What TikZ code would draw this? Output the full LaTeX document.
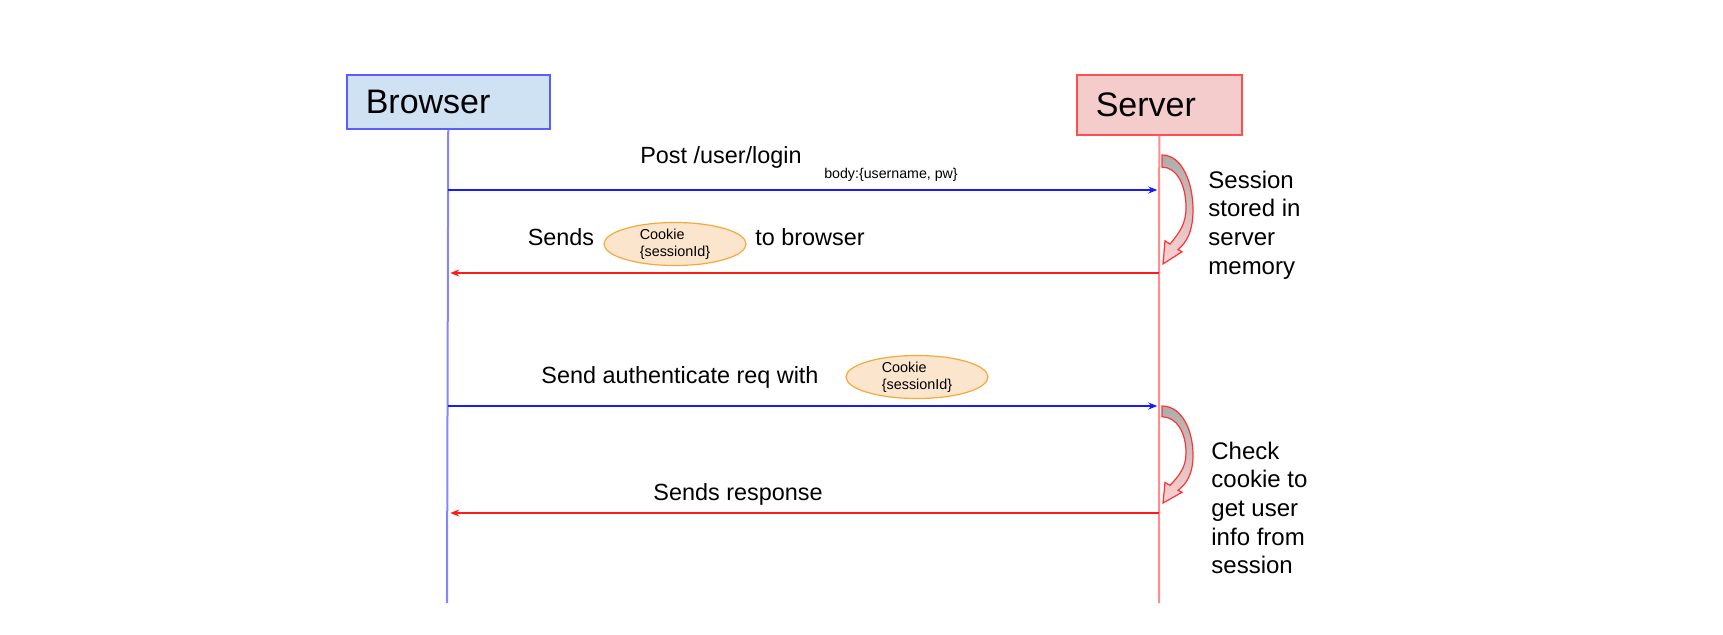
\documentclass[tikz,border=0pt]{standalone}
\usepackage{fontspec}
\setmainfont{Liberation Sans}
\usetikzlibrary{arrows.meta,shapes.geometric}
\definecolor{brfill}{HTML}{CFE2F3}
\definecolor{brline}{HTML}{5C5CFF}
\definecolor{svfill}{HTML}{F4CCCC}
\definecolor{svline}{HTML}{FF5050}
\definecolor{ckfill}{HTML}{FCE5CD}
\definecolor{ckline}{HTML}{F6A93B}
\definecolor{reqcol}{HTML}{1A1AFF}
\definecolor{respcol}{HTML}{FF1A1A}
\begin{document}
\begin{tikzpicture}[x=0.5pt,y=-0.5pt,
lane/.style={draw, line width=0.75pt, align=left, inner ysep=0pt, inner xsep=9.5pt, anchor=west, font=\fontsize{17}{20}\selectfont},
life/.style={line width=1pt},
req/.style={draw=reqcol, line width=0.6pt, -{Stealth[length=4.5pt,width=3.5pt]}, shorten >=1pt},
resp/.style={draw=respcol, line width=0.6pt, -{Stealth[length=4.5pt,width=3.5pt]}, shorten >=1pt},
lbl/.style={inner sep=0pt, font=\fontsize{11.7}{14}\selectfont},
tiny/.style={inner sep=0pt, font=\fontsize{7.1}{8.5}\selectfont},
cookie/.style={ellipse, draw=ckline, fill=ckfill, line width=0.6pt, minimum width=71pt, minimum height=20pt, inner sep=0pt, align=left, font=\fontsize{7.2}{8.5}\selectfont},
note/.style={inner sep=0pt, anchor=west, align=left, font=\fontsize{12}{14.3}\selectfont},
turn/.style={draw=red!80, line width=0.6pt, top color=gray!65, bottom color=red!18}]
\useasboundingbox (0,0) rectangle (1723,634);
%lanes
\node[lane, draw=brline, fill=brfill, text width=82.5pt, minimum height=27pt] (browser) at (346,102) {Browser};
\node[lane, draw=svline, fill=svfill, text width=63.5pt, minimum height=30pt] (server) at (1076,105) {Server};
\coordinate (bend) at (447,603);
\coordinate (send) at (1159,603);
\draw[life, draw=brline!75] (browser.south) -- (bend);
\draw[life, draw=svline!65] (server.south) -- (send);
%messages
\foreach \n/\y in {1/190,2/273,3/406,4/513}{\coordinate (m\n) at (0,\y);}
\draw[req] (browser |- m1) -- (server |- m1);
\draw[resp] (server |- m2) -- (browser |- m2);
\draw[req] (browser |- m3) -- (server |- m3);
\draw[resp] (server |- m4) -- (browser |- m4);
%labels
\node[lbl] (login) at (721,157) {Post /user/login};
\node[tiny] (body) at (891,175) {body:\{username, pw\}};
\node[lbl] (sends) at (561,237) {Sends};
\node[cookie] (ck1) at (675,244) {Cookie\\\{sessionId\}};
\node[lbl] (tobr) at (810,237) {to browser};
\node[lbl] (auth) at (680,377) {Send authenticate req with};
\node[cookie] (ck2) at (917,377) {Cookie\\\{sessionId\}};
\node[lbl] (answer) at (738,494) {Sends response};
%server side
\node[note] (store) at (1208,225) {Session\\stored in\\server\\memory};
\node[note] (check) at (1211,508) {Check\\cookie to\\get user\\info from\\session};
\foreach \t/\b in {155/265,406/504}{
\begin{scope}[shift={(1162,\t)}, yscale={(\b-\t)/100}]
\draw[turn] (0,0) .. controls (20,0) and (31,25) .. (31,50) .. controls (31,70) and (24,80) .. (16,86) -- (20,88) -- (1,99) -- (3,78) -- (8,81) .. controls (18,70) and (24,62) .. (24,48) .. controls (24,26) and (14,11) .. (0,11) -- cycle;
\end{scope}}
\end{tikzpicture}
\end{document}
